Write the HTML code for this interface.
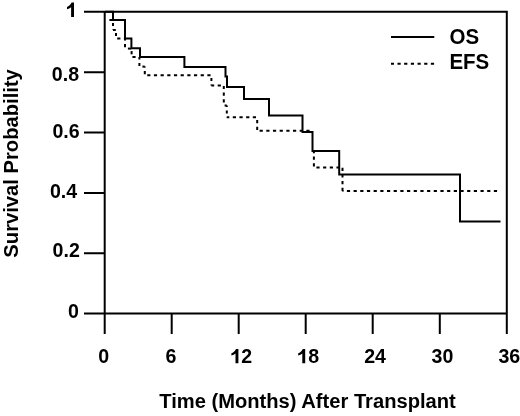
<!DOCTYPE html>
<html>
<head>
<meta charset="utf-8">
<style>
html,body{margin:0;padding:0;background:#fff;width:520px;height:416px;overflow:hidden;}
svg{display:block;will-change:transform;}
text{font-family:"Liberation Sans",sans-serif;font-weight:bold;fill:#000;}
</style>
</head>
<body>
<svg width="520" height="416" viewBox="0 0 520 416">
<g fill="none" stroke="#000" stroke-width="2">
<path d="M84,11.7 H506.8 V334"/>
<path d="M104.7,11.7 V334"/>
<path d="M84,313.6 H506.8"/>
<path d="M84,72.2 H105 M84,132.6 H105 M84,193 H105 M84,253.3 H105"/>
<path d="M171.7,314 V334 M238.7,314 V334 M305.7,314 V334 M372.7,314 V334 M439.8,314 V334"/>
<path d="M105,11.7 H113 V20 H125 V38.6 H131.4 V48.2 H140 V57 H184.4 V67 H225.5 V76.5 H227 V87 H244 V99 H269 V115.6 H302.5 V132 H312.5 V151 H339.2 V174.5 H460 V221.5 H500.5"/>
<path stroke-dasharray="3.2 3.48" stroke-dashoffset="6.28" d="M109,20 L113,20"/>
<path stroke-dasharray="3.2 3.48" stroke-dashoffset="3.78" d="M113,20 L113,30"/>
<path stroke-dasharray="3.2 3.48" stroke-dashoffset="0.40" d="M113,30 L116,30"/>
<path stroke-dasharray="3.2 3.48" stroke-dashoffset="3.78" d="M116,30 L116,38.6"/>
<path stroke-dasharray="3.2 3.48" stroke-dashoffset="5.48" d="M116,38.6 L125,38.6"/>
<path stroke-dasharray="3.2 3.48" stroke-dashoffset="1.28" d="M125,38.6 L125,48.6"/>
<path stroke-dasharray="3.2 3.48" stroke-dashoffset="3.78" d="M125,48.6 L131.6,48.6"/>
<path stroke-dasharray="3.2 3.48" stroke-dashoffset="4.18" d="M131.6,48.6 L131.6,57"/>
<path stroke-dasharray="3.2 3.48" stroke-dashoffset="5.88" d="M131.6,57 L139.4,57"/>
<path stroke-dasharray="3.2 3.48" stroke-dashoffset="0.78" d="M139.4,57 L139.4,66.6"/>
<path stroke-dasharray="3.2 3.48" stroke-dashoffset="3.68" d="M139.4,66.6 L144.8,66.6"/>
<path stroke-dasharray="3.2 3.48" stroke-dashoffset="2.28" d="M144.8,66.6 L144.8,75.3"/>
<path stroke-dasharray="3.2 3.48" stroke-dashoffset="4.26" d="M144.8,75.3 L211.4,75.3"/>
<path stroke-dasharray="3.2 3.48" stroke-dashoffset="4.08" d="M211.4,75.3 L211.4,85.5"/>
<path stroke-dasharray="3.2 3.48" stroke-dashoffset="0.40" d="M211.4,85.5 L223.8,85.5"/>
<path stroke-dasharray="3.2 3.48" stroke-dashoffset="6.28" d="M223.8,85.5 L223.8,105.5"/>
<path stroke-dasharray="3.2 3.48" stroke-dashoffset="5.88" d="M223.8,105.5 L226.8,105.5"/>
<path stroke-dasharray="3.2 3.48" stroke-dashoffset="1.78" d="M226.8,105.5 L226.8,117.2"/>
<path stroke-dasharray="3.2 3.48" stroke-dashoffset="0.70" d="M226.8,117.2 L257.2,117.2"/>
<path stroke-dasharray="3.2 3.48" stroke-dashoffset="3.78" d="M257.2,117.2 L257.2,130.8"/>
<path stroke-dasharray="3.2 3.48" stroke-dashoffset="4.28" d="M257.2,130.8 L312.5,130.8"/>
<path stroke-dasharray="3.2 3.48" stroke-dashoffset="1.06" d="M313.9,151 L313.9,167.5"/>
<path stroke-dasharray="3.2 3.48" stroke-dashoffset="4.18" d="M313.9,167.5 L342.5,167.5"/>
<path stroke-dasharray="3.2 3.48" stroke-dashoffset="6.48" d="M342.5,167.5 L342.5,191"/>
<path stroke-dasharray="3.2 3.48" stroke-dashoffset="2.28" d="M342.5,191 L498,191"/>
<path stroke-dasharray="3.2 3.48" stroke-dashoffset="0.20" d="M391,63.8 L434.3,63.8"/>
<path d="M391,37 H434.3"/>
</g>
<g font-size="19.6" fill="#000">
<text transform="translate(79.1,80.6) scale(1,1.045)" text-anchor="end">0.8</text>
<text transform="translate(79.7,137.9) scale(1,1.045)" text-anchor="end">0.6</text>
<text transform="translate(77.2,198.2) scale(1,1.045)" text-anchor="end">0.4</text>
<text transform="translate(79.8,256.7) scale(1,1.045)" text-anchor="end">0.2</text>
<text transform="translate(79.0,317.8) scale(1,1.045)" text-anchor="end">0</text>
<path transform="translate(67.0,2.6)" d="M7,0 V14.3 H4.1 V4.7 C3,5.7 1.6,6.4 0,6.7 V4.4 C1.8,3.7 3.6,2.3 4.6,0 Z"/>
<text transform="translate(98.2,363) scale(1,1.02)" text-anchor="start">0</text>
<text transform="translate(165.4,363) scale(1,1.02)" text-anchor="start">6</text>
<path transform="translate(231.4,348.9)" d="M7,0 V14.3 H4.1 V4.7 C3,5.7 1.6,6.4 0,6.7 V4.4 C1.8,3.7 3.6,2.3 4.6,0 Z"/>
<text transform="translate(241.2,363) scale(1,1.02)" text-anchor="start">2</text>
<path transform="translate(298.2,348.9)" d="M7,0 V14.3 H4.1 V4.7 C3,5.7 1.6,6.4 0,6.7 V4.4 C1.8,3.7 3.6,2.3 4.6,0 Z"/>
<text transform="translate(308.3,363) scale(1,1.02)" text-anchor="start">8</text>
<text transform="translate(364.2,363) scale(1,1.02)" text-anchor="start">24</text>
<text transform="translate(431.5,363) scale(1,1.02)" text-anchor="start">30</text>
<text transform="translate(498.4,363) scale(1,1.02)" text-anchor="start">36</text>
<text font-size="20.5" transform="translate(449.6,44.4) scale(1,1.04)">OS</text>
<text font-size="20.5" transform="translate(449.4,68.9) scale(1,1.04)">EFS</text>
</g>
<text font-size="20.15" x="307.5" y="408.2" text-anchor="middle">Time (Months) After Transplant</text>
<text font-size="20.2" transform="translate(17.6,163.4) rotate(-90)" text-anchor="middle">Survival Probability</text>
</svg>
</body>
</html>
